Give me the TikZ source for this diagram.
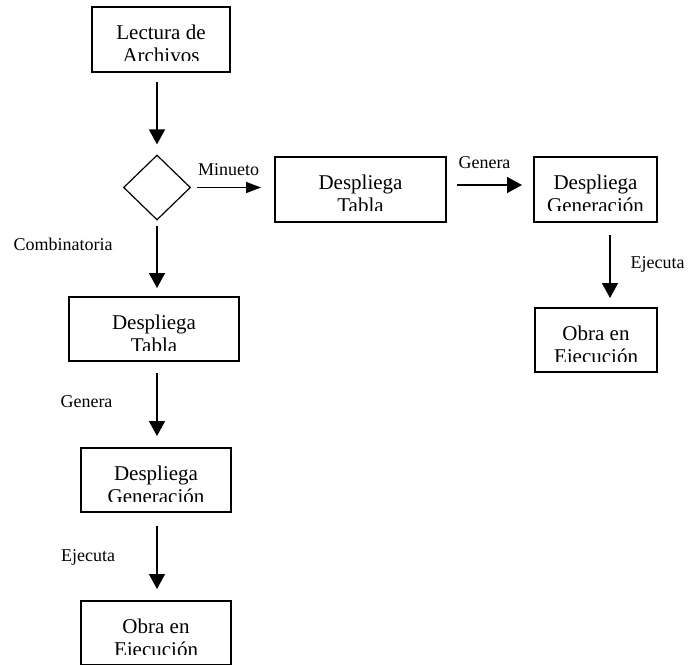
\documentclass[tikz,border=0pt]{standalone}
\usepackage{fontspec}
\setmainfont{Liberation Serif}
\usetikzlibrary{arrows.meta,shapes.geometric}

\tikzset{
  stepbox/.style={draw, line width=1.5pt, inner sep=0pt, outer sep=0pt},
  boxline/.style={anchor=base, inner sep=0pt, font=\fontsize{21}{23}\selectfont},
  edgelabel/.style={anchor=base, inner sep=0pt, font=\fontsize{18}{20}\selectfont},
  flow/.style={line width=1.5pt, -{Triangle[length=15pt,width=16pt]}},
  thinflow/.style={line width=1.5pt, -{Triangle[length=15pt,width=11pt]}},
}

% Box with two text lines; the second line is trimmed at the inner margin
\newcommand\flowstep[6]{% name, center, width, height, line 1, line 2
  \node[stepbox, minimum width=#3, minimum height=#4] (#1) at (#2) {};
  \begin{scope}
    \clip (#1.north west) rectangle ([yshift=-53.5pt]#1.north east);
    \node[boxline] (#1-a) at ([yshift=-32pt]#1.north) {#5};
    \node[boxline] (#1-b) at ([yshift=-55pt]#1.north) {#6};
  \end{scope}
}

\begin{document}
\begin{tikzpicture}[x=1pt, y=-1pt]
  \useasboundingbox (0,0) rectangle (693,664);

  % left column
  \flowstep{b1}{161,39.5}{138pt}{65pt}{Lectura de}{Archivos}
  \node[draw, diamond, line width=1.2pt, inner sep=0pt,
        minimum width=67pt, minimum height=65pt] (dia) at (157,187.5) {};
  \flowstep{b2}{154,329}{170pt}{64pt}{Despliega}{Tabla}
  \flowstep{b3}{156,480}{150pt}{64pt}{Despliega}{Generación}
  \flowstep{b4}{156,633}{150pt}{64pt}{Obra en}{Ejecución}

  % right branch
  \flowstep{b5}{360.5,189.5}{171pt}{65pt}{Despliega}{Tabla}
  \flowstep{b6}{595.5,189.5}{123pt}{65pt}{Despliega}{Generación}
  \flowstep{b7}{596,340}{122pt}{64pt}{Obra en}{Ejecución}

  % connectors
  \draw[flow, shorten <=10pt, shorten >=10pt] (b1.south -| dia.north) -- (dia.north);
  \draw[flow, shorten <=5pt, shorten >=9pt] (dia.south) -- (dia.south |- b2.north);
  \draw[flow, shorten <=12pt, shorten >=12pt] (b2.south -| dia.south) -- (b3.north -| dia.south);
  \draw[flow, shorten <=14pt, shorten >=12pt] (b3.south -| dia.south) -- (b4.north -| dia.south);
  \draw[thinflow, shorten <=6pt, shorten >=14pt] (dia.east) -- (dia.east -| b5.west);
  \draw[flow, shorten <=11pt, shorten >=12pt] ([yshift=4.5pt]b5.east) -- ([yshift=4.5pt]b5.east -| b6.west);
  \draw[flow, shorten <=13pt, shorten >=10pt] ([xshift=14.5pt]b6.south) -- ([xshift=14.5pt]b6.south |- b7.north);

  % connector labels
  \node[edgelabel] (lcomb) at (63,250) {Combinatoria};
  \node[edgelabel] (lgen1) at (86.5,407) {Genera};
  \node[edgelabel] (lejec1) at (88,561) {Ejecuta};
  \node[edgelabel] (lmin) at (228.5,175) {Minueto};
  \node[edgelabel] (lgen2) at (484.5,168) {Genera};
  \node[edgelabel] (lejec2) at (657.5,268) {Ejecuta};
\end{tikzpicture}
\end{document}
